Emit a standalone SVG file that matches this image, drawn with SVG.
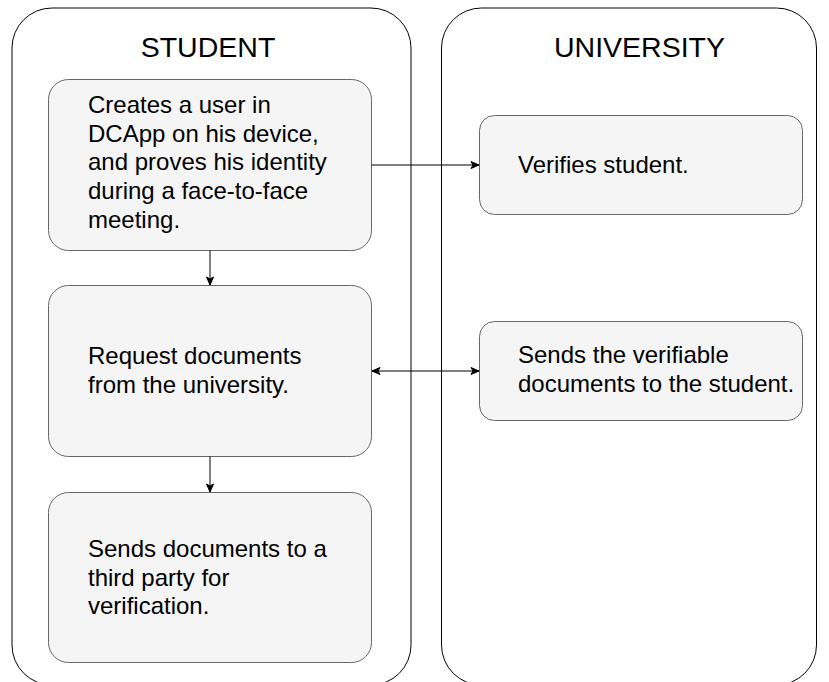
<svg xmlns="http://www.w3.org/2000/svg" width="829" height="682" viewBox="0 0 829 682">
  <style>
    .lane { fill: #ffffff; stroke: #000000; stroke-width: 1; }
    .box { fill: #f5f5f5; stroke: #666666; stroke-width: 1; }
    .title { font-family: "Liberation Sans", Arial, Helvetica, sans-serif; font-size: 28.5px; fill: #000000; text-anchor: middle; }
    .txt { font-family: "Liberation Sans", Arial, Helvetica, sans-serif; font-size: 24px; fill: #000000; }
    .edge { fill: none; stroke: #000000; stroke-width: 1; }
  </style>
  <defs>
    <marker id="arrowEnd" markerUnits="userSpaceOnUse" markerWidth="10" markerHeight="10" refX="9" refY="4.5" orient="auto">
      <path d="M1,1 L9,4.5 L1,8 L3,4.5 Z" fill="#000000" stroke="#000000" stroke-width="1"/>
    </marker>
    <marker id="arrowStart" markerUnits="userSpaceOnUse" markerWidth="10" markerHeight="10" refX="1" refY="4.5" orient="auto">
      <path d="M9,1 L1,4.5 L9,8 L7,4.5 Z" fill="#000000" stroke="#000000" stroke-width="1"/>
    </marker>
  </defs>

  <rect width="829" height="682" fill="#ffffff"/>

  <!-- swimlanes -->
  <g id="lane-student">
    <rect class="lane" x="12" y="8" width="399" height="677" rx="40" ry="40"/>
    <text class="title" x="208" y="57">STUDENT</text>
  </g>
  <g id="lane-university">
    <rect class="lane" x="441.5" y="8" width="375" height="677" rx="40" ry="40"/>
    <text class="title" x="639.5" y="57">UNIVERSITY</text>
  </g>

  <!-- student steps -->
  <g id="create-user">
    <rect class="box" x="48.5" y="79.5" width="323" height="171" rx="20" ry="20"/>
    <text class="txt">
      <tspan x="88" y="113">Creates a user in</tspan>
      <tspan x="88" y="142">DCApp on his device,</tspan>
      <tspan x="88" y="170">and proves his identity</tspan>
      <tspan x="88" y="199">during a face-to-face</tspan>
      <tspan x="88" y="228">meeting.</tspan>
    </text>
  </g>
  <g id="request-docs">
    <rect class="box" x="48.5" y="285.5" width="323" height="171" rx="20" ry="20"/>
    <text class="txt">
      <tspan x="88" y="364">Request documents</tspan>
      <tspan x="88" y="393">from the university.</tspan>
    </text>
  </g>
  <g id="send-third-party">
    <rect class="box" x="48.5" y="492.5" width="323" height="170" rx="20" ry="20"/>
    <text class="txt">
      <tspan x="88" y="557">Sends documents to a</tspan>
      <tspan x="88" y="586">third party for</tspan>
      <tspan x="88" y="614">verification.</tspan>
    </text>
  </g>

  <!-- university steps -->
  <g id="verify-student">
    <rect class="box" x="479.5" y="115.5" width="323" height="99" rx="15" ry="15"/>
    <text class="txt" x="518" y="173">Verifies student.</text>
  </g>
  <g id="send-verifiable">
    <rect class="box" x="479.5" y="321.5" width="323" height="99" rx="15" ry="15"/>
    <text class="txt">
      <tspan x="518" y="363">Sends the verifiable</tspan>
      <tspan x="518" y="392">documents to the student.</tspan>
    </text>
  </g>

  <!-- connectors -->
  <g id="connectors">
    <line class="edge" x1="371.5" y1="165" x2="479" y2="165" marker-end="url(#arrowEnd)"/>
    <line class="edge" x1="372" y1="371" x2="479" y2="371" marker-start="url(#arrowStart)" marker-end="url(#arrowEnd)"/>
    <line class="edge" x1="210" y1="250.5" x2="210" y2="285" marker-end="url(#arrowEnd)"/>
    <line class="edge" x1="210" y1="456.5" x2="210" y2="492" marker-end="url(#arrowEnd)"/>
  </g>
</svg>
